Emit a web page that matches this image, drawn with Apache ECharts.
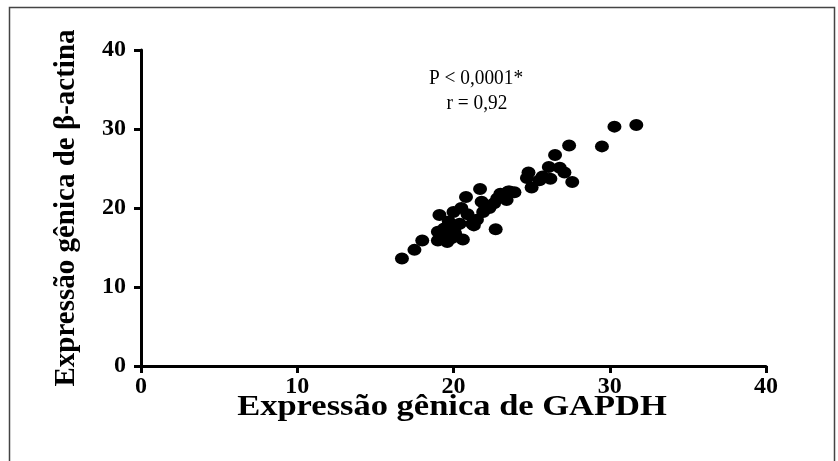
<!DOCTYPE html>
<html>
<head>
<meta charset="utf-8">
<script src="https://cdn.jsdelivr.net/npm/echarts@6/dist/echarts.min.js"></script>
<style>
  html, body { margin: 0; padding: 0; background: #fff; }
  #chart { width: 838px; height: 461px; }
</style>
</head>
<body>
<div id="chart"></div>
<script>
// GAPDH expression (x) vs beta-actin expression (y), one pair per sample
const gapdh = [
  16.7, 17.5, 18.0, 19.1, 19.0, 19.0, 19.6, 20.6, 22.7, 20.8,
  21.7, 20.0, 20.5, 21.2, 21.5, 21.9, 21.8, 22.8, 23.0, 23.5,
  22.3, 20.1, 19.7, 20.4, 19.3, 20.1, 19.9, 21.3, 23.6, 23.4,
  24.7, 24.8, 25.0, 25.5, 25.7, 26.1, 26.2, 26.8, 27.1, 27.6,
  26.5, 27.4, 29.5, 30.3, 31.7, 19.4, 20.9, 22.0, 22.6, 23.9
];
const betaActina = [
  13.6, 14.7, 15.9, 19.1, 17.0, 15.9, 15.7, 16.0, 17.3, 21.4,
  22.4, 19.5, 20.0, 18.0, 18.5, 19.5, 20.8, 21.2, 21.8, 22.1,
  20.0, 17.6, 18.3, 18.0, 16.6, 16.8, 16.2, 17.8, 22.1, 21.0,
  23.8, 24.5, 22.6, 23.5, 24.0, 25.2, 23.7, 25.1, 24.5, 23.3,
  26.7, 27.9, 27.8, 30.3, 30.5, 17.4, 19.2, 20.4, 20.6, 22.0
];
const axisTicks = [0, 10, 20, 30, 40];
const xTitle = 'Expressão gênica de GAPDH';
const yTitle = 'Expressão gênica de β-actina';
const statsLines = ['P < 0,0001*', 'r = 0,92'];

const points = gapdh.map((v, i) => [v, betaActina[i]]);
const serif = '"Liberation Serif", "Times New Roman", serif';

const chart = echarts.init(document.getElementById('chart'), null, { renderer: 'canvas' });

const axisCommon = {
  type: 'value',
  min: axisTicks[0],
  max: axisTicks[axisTicks.length - 1],
  interval: axisTicks[1] - axisTicks[0],
  splitLine: { show: false },
  axisLine: { show: true, onZero: false, lineStyle: { color: '#000', width: 3 } },
  axisTick: { show: true, length: 7, lineStyle: { color: '#000', width: 3 } },
  axisLabel: { color: '#000', fontFamily: serif, fontWeight: 'bold', fontSize: 24 }
};

chart.setOption({
  animation: false,
  backgroundColor: '#fff',
  grid: { left: 141, right: 72, top: 50, bottom: 95 },
  xAxis: Object.assign({}, axisCommon, {
    axisLabel: Object.assign({}, axisCommon.axisLabel, { margin: 9 })
  }),
  yAxis: Object.assign({}, axisCommon, {
    axisLabel: Object.assign({}, axisCommon.axisLabel, { margin: 15 }),
    name: yTitle,
    nameLocation: 'middle',
    nameGap: 60,
    nameTextStyle: { color: '#000', fontFamily: serif, fontWeight: 'bold', fontSize: 29 }
  }),
  graphic: [
    {
      type: 'rect',
      shape: { x: 9.5, y: 7.5, width: 825, height: 470 },
      style: { fill: 'none', stroke: '#444', lineWidth: 1.5 },
      silent: true
    },
    {
      // x-axis title, drawn slightly widened
      type: 'text',
      x: 452, y: 407,
      scaleX: 1.15,
      style: {
        text: xTitle, fill: '#000', fontFamily: serif, fontWeight: 'bold', fontSize: 30,
        textAlign: 'center', textVerticalAlign: 'middle'
      }
    },
    {
      type: 'text',
      x: 476, y: 78,
      scaleX: 0.92,
      style: {
        text: statsLines[0], fill: '#000', fontFamily: serif, fontSize: 21,
        textAlign: 'center', textVerticalAlign: 'middle'
      }
    },
    {
      type: 'text',
      x: 477, y: 103,
      scaleX: 0.92,
      style: {
        text: statsLines[1], fill: '#000', fontFamily: serif, fontSize: 21,
        textAlign: 'center', textVerticalAlign: 'middle'
      }
    }
  ],
  series: [{
    type: 'scatter',
    data: points,
    symbol: 'circle',
    symbolSize: [14, 12],
    itemStyle: { color: '#000', opacity: 1 }
  }]
});
</script>
</body>
</html>
